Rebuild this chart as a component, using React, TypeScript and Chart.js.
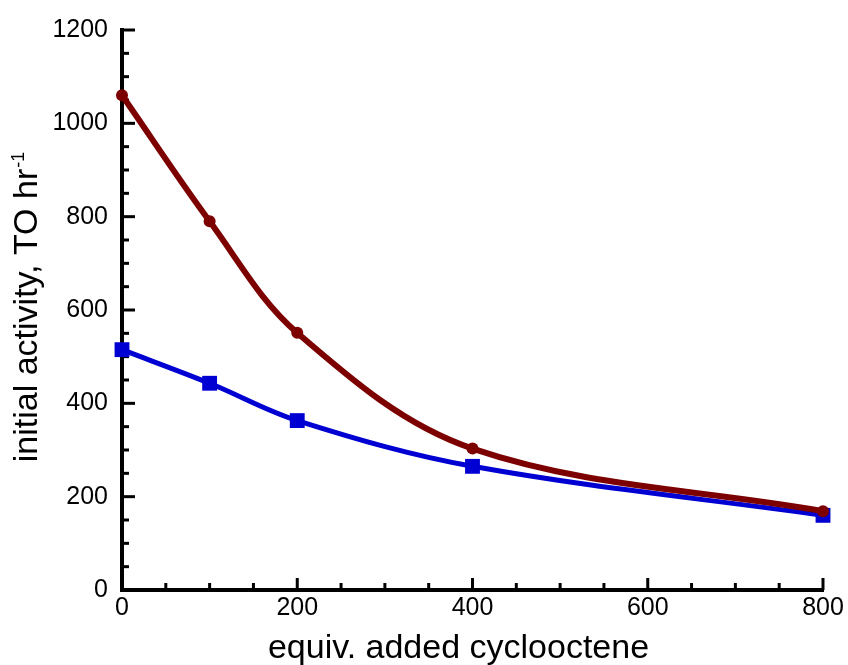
import React, { useEffect, useRef } from 'react';
import { Chart, registerables } from 'chart.js';

Chart.register(...registerables);

const equivAdded = [0, 100, 200, 400, 800];
const activityRed = [1060, 790, 551, 303, 169];
const activityBlue = [515, 443, 363, 265, 160];
const xTickValues = [0, 200, 400, 600, 800];
const yTickValues = [0, 200, 400, 600, 800, 1000, 1200];
const xTitleText = 'equiv. added cyclooctene';
const yTitleText = 'initial activity, TO hr';
const yTitleSup = '-1';

const FONT = '"Liberation Sans", Arial, Helvetica, sans-serif';

const axisDecor = {
  id: 'axisDecor',
  beforeDatasetsDraw(chart: any) {
    const { ctx } = chart;
    const xs = chart.scales.x;
    const ys = chart.scales.y;
    const area = chart.chartArea;
    ctx.save();
    ctx.strokeStyle = '#000';
    ctx.lineWidth = 3;
    ctx.lineCap = 'butt';
    for (let v = xs.min; v <= xs.max; v += 50) {
      const major = xTickValues.includes(v);
      const px = xs.getPixelForValue(v);
      ctx.beginPath();
      ctx.moveTo(px, area.bottom);
      ctx.lineTo(px, area.bottom - (major ? 12 : 7));
      ctx.stroke();
    }
    for (let v = ys.min; v <= ys.max; v += 50) {
      const major = yTickValues.includes(v);
      const py = ys.getPixelForValue(v);
      ctx.beginPath();
      ctx.moveTo(area.left, py);
      ctx.lineTo(area.left + (major ? 13 : 7), py);
      ctx.stroke();
    }
    ctx.restore();
  },
  afterDraw(chart: any) {
    const { ctx } = chart;
    const area = chart.chartArea;
    ctx.save();
    ctx.fillStyle = '#000';
    ctx.font = `34px ${FONT}`;
    ctx.textAlign = 'center';
    ctx.textBaseline = 'alphabetic';
    ctx.fillText(xTitleText, (area.left + area.right) / 2 - 14, chart.height - 7);
    ctx.translate(37, (area.top + area.bottom) / 2 - 3);
    ctx.rotate(-Math.PI / 2);
    ctx.textAlign = 'left';
    ctx.font = `34px ${FONT}`;
    const wMain = ctx.measureText(yTitleText).width;
    ctx.font = `18px ${FONT}`;
    const wSup = ctx.measureText(yTitleSup).width;
    const start = -(wMain + wSup + 1) / 2;
    ctx.font = `34px ${FONT}`;
    ctx.fillText(yTitleText, start, 0);
    ctx.font = `18px ${FONT}`;
    ctx.fillText(yTitleSup, start + wMain + 1, -13);
    ctx.restore();
  },
};

export default function App() {
  const canvasRef = useRef<HTMLCanvasElement | null>(null);

  useEffect(() => {
    const canvas = canvasRef.current;
    if (!canvas) return;
    const chart = new Chart(canvas, {
      type: 'line',
      data: {
        datasets: [
          {
            label: 'red',
            data: equivAdded.map((x, i) => ({ x, y: activityRed[i] })),
            borderColor: '#7d0000',
            backgroundColor: '#7d0000',
            borderWidth: 6,
            pointStyle: 'circle',
            pointRadius: 6,
            pointBorderWidth: 0,
            tension: 0.35,
            clip: false,
          },
          {
            label: 'blue',
            data: equivAdded.map((x, i) => ({ x, y: activityBlue[i] })),
            borderColor: '#0000d2',
            backgroundColor: '#0000d2',
            borderWidth: 5,
            pointStyle: 'rect',
            pointRadius: 10.5,
            pointBorderWidth: 0,
            tension: 0.35,
            clip: false,
          },
        ],
      },
      options: {
        responsive: false,
        animation: false,
        layout: { padding: { top: 30, right: 25, bottom: 0, left: 0 } },
        plugins: {
          legend: { display: false },
          tooltip: { enabled: false },
        },
        scales: {
          x: {
            type: 'linear',
            min: 0,
            max: 800,
            afterBuildTicks: (s: any) => {
              s.ticks = xTickValues.map((v) => ({ value: v }));
            },
            afterFit: (s: any) => {
              s.height = 75;
            },
            grid: { display: false, drawTicks: false },
            border: { display: true, color: '#000', width: 4 },
            ticks: {
              color: '#000',
              font: { size: 25, family: FONT },
              padding: 3,
              maxRotation: 0,
              autoSkip: false,
              callback: (v: any) => String(v),
            },
          },
          y: {
            type: 'linear',
            min: 0,
            max: 1200,
            afterBuildTicks: (s: any) => {
              s.ticks = yTickValues.map((v) => ({ value: v }));
            },
            afterFit: (s: any) => {
              s.width = 122;
            },
            grid: { display: false, drawTicks: false },
            border: { display: true, color: '#000', width: 4 },
            ticks: {
              color: '#000',
              font: { size: 25, family: FONT },
              padding: 14,
              autoSkip: false,
              callback: (v: any) => String(v),
            },
          },
        },
      },
      plugins: [axisDecor],
    } as any);
    return () => chart.destroy();
  }, []);

  return (
    <div style={{ position: 'fixed', left: 0, top: 0, width: 848, height: 665, background: '#fff' }}>
      <canvas ref={canvasRef} width={848} height={665} />
    </div>
  );
}
